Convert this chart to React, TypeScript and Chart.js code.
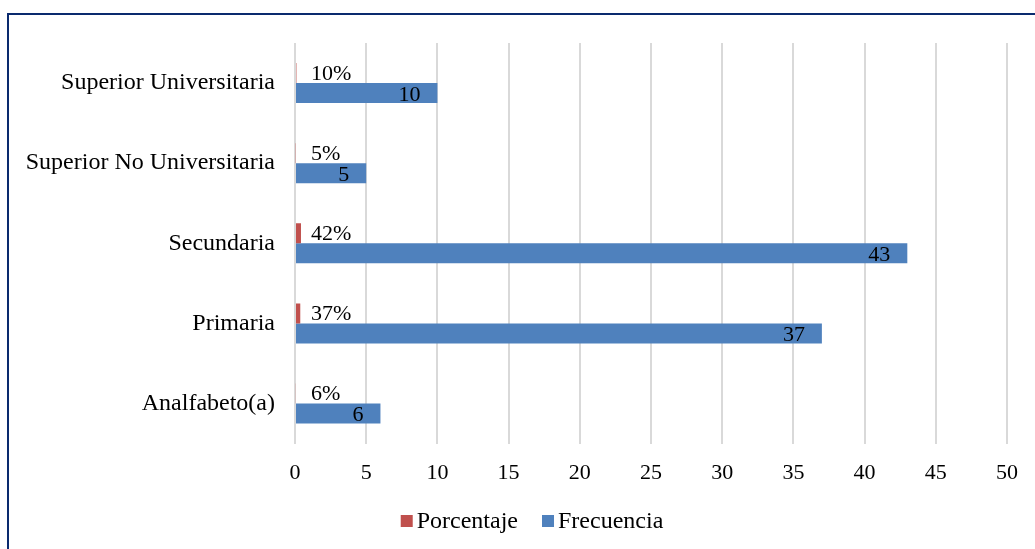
import React, { useEffect, useRef } from "react";
import { Chart, registerables } from "chart.js";

Chart.register(...registerables);

const categories = [
  "Superior Universitaria",
  "Superior No Universitaria",
  "Secundaria",
  "Primaria",
  "Analfabeto(a)",
];
const porcentaje = [0.1, 0.05, 0.42, 0.37, 0.06];
const frecuencia = [10, 5, 43, 37, 6];
const xMin = 0;
const xMax = 50;
const xStep = 5;

const FONT = "'Liberation Serif', 'Times New Roman', serif";

const labelPlugin = {
  id: "barLabels",
  afterDatasetsDraw(chart: any) {
    const ctx = chart.ctx;
    ctx.save();
    ctx.font = `22px ${FONT}`;
    ctx.fillStyle = "#000";
    ctx.textBaseline = "middle";
    const zero = chart.scales.x.getPixelForValue(0);
    chart.data.datasets.forEach((ds: any, di: number) => {
      const meta = chart.getDatasetMeta(di);
      meta.data.forEach((el: any, i: number) => {
        const v = ds.data[i];
        if (di === 0) {
          ctx.textAlign = "left";
          ctx.fillText(`${Math.round(v * 100)}%`, zero + 16, el.y + 1);
        } else {
          ctx.textAlign = "right";
          ctx.fillText(String(v), el.x - 17, el.y + 2);
        }
      });
    });
    ctx.restore();
  },
};

// legend drawn from the chart's own datasets
const legendPlugin = {
  id: "customLegend",
  afterDraw(chart: any) {
    const ctx = chart.ctx;
    const centerX = 523;
    const centerY = 506;
    const box = 12;
    const gap = 4;
    const itemGap = 24;
    ctx.save();
    ctx.font = `24px ${FONT}`;
    ctx.textBaseline = "middle";
    ctx.textAlign = "left";
    const items = chart.data.datasets.map((ds: any) => ({
      label: ds.label,
      color: ds.backgroundColor,
      w: box + gap + ctx.measureText(ds.label).width,
    }));
    const total =
      items.reduce((a: number, it: any) => a + it.w, 0) +
      itemGap * (items.length - 1);
    let x = centerX - total / 2;
    items.forEach((it: any) => {
      ctx.fillStyle = it.color;
      ctx.fillRect(x, centerY - box / 2, box, box);
      ctx.fillStyle = "#000";
      ctx.fillText(it.label, x + box + gap, centerY + 1);
      x += it.w + itemGap;
    });
    ctx.restore();
  },
};

export default function App() {
  const ref = useRef<HTMLCanvasElement>(null);
  useEffect(() => {
    if (!ref.current) return;
    const chart = new Chart(ref.current, {
      type: "bar",
      data: {
        labels: categories,
        datasets: [
          {
            label: "Porcentaje",
            data: porcentaje,
            backgroundColor: "#C0504D",
            categoryPercentage: 0.5,
            barPercentage: 1,
          },
          {
            label: "Frecuencia",
            data: frecuencia,
            backgroundColor: "#4F81BD",
            categoryPercentage: 0.5,
            barPercentage: 1,
          },
        ],
      },
      options: {
        indexAxis: "y",
        animation: false,
        responsive: false,
        maintainAspectRatio: false,
        layout: { padding: { top: 28, right: 48, bottom: 43, left: 0 } },
        scales: {
          x: {
            min: xMin,
            max: xMax,
            ticks: {
              stepSize: xStep,
              color: "#000",
              font: { family: FONT, size: 22 },
              padding: 16,
            },
            grid: { color: "#d9d9d9", lineWidth: 2, drawTicks: false },
            border: { display: false },
          },
          y: {
            ticks: {
              color: "#000",
              font: { family: FONT, size: 24 },
              padding: 20,
            },
            grid: { display: false, drawTicks: false },
            border: { display: false },
            afterFit: (s: any) => {
              s.width = 286;
              s.paddingTop = 0;
              s.paddingBottom = 0;
            },
          },
        },
        plugins: {
          legend: { display: false },
          tooltip: { enabled: false },
        },
      },
      plugins: [labelPlugin, legendPlugin],
    });
    return () => chart.destroy();
  }, []);
  return (
    <div
      style={{
        position: "fixed",
        left: 0,
        top: 0,
        width: 1035,
        height: 549,
        overflow: "hidden",
        background: "#fff",
      }}
    >
      <div
        style={{
          position: "absolute",
          left: 7,
          top: 13,
          width: 1100,
          height: 560,
          border: "2px solid #0A2A6E",
          boxSizing: "border-box",
        }}
      >
        <canvas
          ref={ref}
          width={1046}
          height={530}
          style={{ display: "block", position: "absolute", left: 0, top: 0 }}
        />
      </div>
    </div>
  );
}
